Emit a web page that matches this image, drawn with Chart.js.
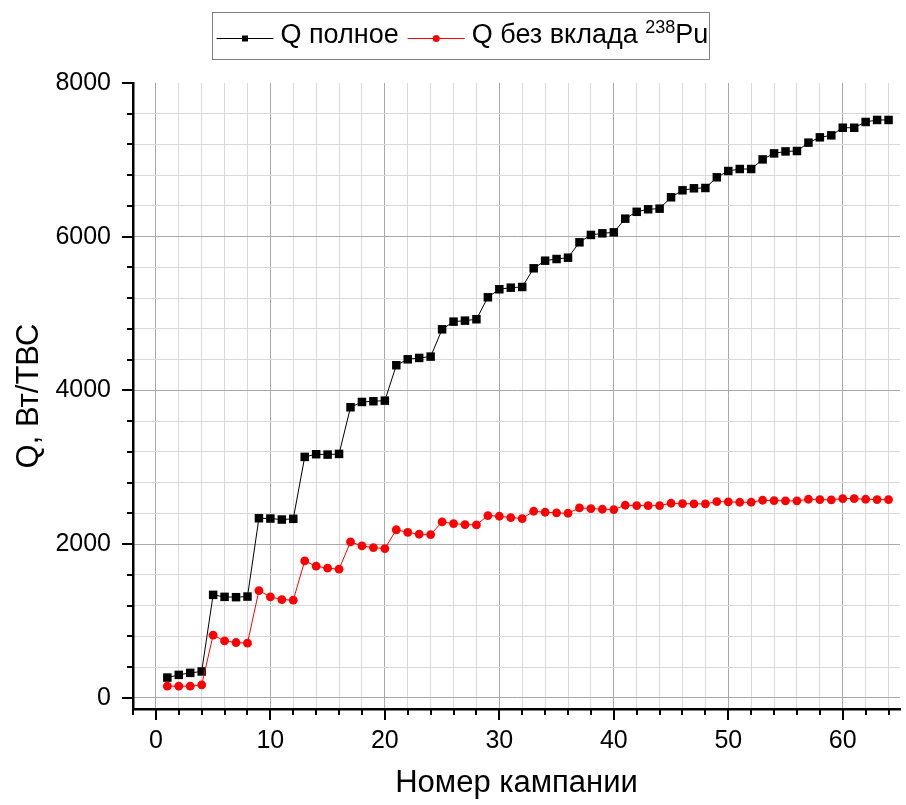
<!DOCTYPE html>
<html>
<head>
<meta charset="utf-8">
<script src="https://cdn.jsdelivr.net/npm/chart.js@4.4.1/dist/chart.umd.min.js"></script>
<style>
  html, body { margin: 0; padding: 0; background: #fff; }
  canvas { display: block; }
</style>
</head>
<body>
<canvas id="chart" width="906" height="805"></canvas>
<script>
// Campaign numbers
const campaigns = [
  1, 2, 3, 4, 5, 6, 7, 8, 9, 10, 11, 12, 13, 14, 15, 16,
  17, 18, 19, 20, 21, 22, 23, 24, 25, 26, 27, 28, 29, 30, 31, 32,
  33, 34, 35, 36, 37, 38, 39, 40, 41, 42, 43, 44, 45, 46, 47, 48,
  49, 50, 51, 52, 53, 54, 55, 56, 57, 58, 59, 60, 61, 62, 63, 64
];

// Total decay heat per assembly, W
const qTotal = [
  264, 299, 325, 343, 1340, 1314, 1310, 1318, 2337, 2333, 2320, 2329, 3135, 3170, 3165, 3174,
  3781, 3850, 3859, 3867, 4328, 4405, 4423, 4440, 4795, 4895, 4908, 4926, 5212, 5316, 5337, 5346,
  5589, 5688, 5710, 5727, 5927, 6023, 6044, 6057, 6235, 6324, 6357, 6365, 6513, 6604, 6630, 6634,
  6773, 6855, 6881, 6881, 7006, 7084, 7110, 7115, 7224, 7293, 7319, 7418, 7418, 7493, 7519, 7519
];

// Decay heat without the Pu-238 contribution, W
const qNoPu238 = [
  152, 152, 152, 169, 815, 741, 720, 711, 1396, 1314, 1279, 1271, 1782, 1713, 1687, 1674,
  2029, 1977, 1955, 1942, 2187, 2153, 2129, 2125, 2289, 2268, 2255, 2250, 2372, 2363, 2346, 2333,
  2428, 2415, 2407, 2402, 2471, 2463, 2454, 2450, 2506, 2502, 2500, 2502, 2532, 2528, 2524, 2524,
  2554, 2550, 2545, 2545, 2571, 2567, 2563, 2563, 2584, 2580, 2576, 2593, 2593, 2584, 2580, 2580
];

// Labelled tick values
const xTickLabels = [0, 10, 20, 30, 40, 50, 60];
const yTickLabels = [0, 2000, 4000, 6000, 8000];

// Legend entries (text pieces, superscripts flagged)
const legendTotal = [{ text: 'Q полное' }];
const legendNoPu = [{ text: 'Q без вклада ' }, { text: '238', sup: true }, { text: 'Pu' }];

const FONT = "'Liberation Sans', Arial, sans-serif";
const GRID_MAJOR = '#a9a9a9';
const GRID_MINOR = '#d9d9d9';

const toPoints = (ys) => campaigns.map((c, i) => ({ x: c, y: ys[i] }));

// Evenly spaced tick values (major + minor) from start to end
const tickRange = (start, end, step) => {
  const out = [];
  for (let v = start; v <= end + 1e-9; v += step) out.push({ value: v });
  return out;
};

// Outward tick marks: long at labelled values, short elsewhere
const axisTickMarks = {
  id: 'axisTickMarks',
  afterDraw(chart) {
    const { ctx, chartArea: a, scales: { x, y } } = chart;
    ctx.save();
    ctx.strokeStyle = '#000';
    ctx.lineWidth = 2;
    ctx.lineCap = 'butt';
    x.ticks.forEach(t => {
      const px = Math.round(x.getPixelForValue(t.value));
      const len = xTickLabels.includes(t.value) ? 11 : 6;
      ctx.beginPath();
      ctx.moveTo(px, a.bottom);
      ctx.lineTo(px, a.bottom + len);
      ctx.stroke();
    });
    y.ticks.forEach(t => {
      const py = Math.round(y.getPixelForValue(t.value));
      const len = yTickLabels.includes(t.value) ? 11 : 6;
      ctx.beginPath();
      ctx.moveTo(a.left, py);
      ctx.lineTo(a.left - len, py);
      ctx.stroke();
    });
    ctx.restore();
  }
};

// Boxed legend with superscript support
const boxedLegend = {
  id: 'boxedLegend',
  afterDraw(chart) {
    const ctx = chart.ctx;
    const entries = [legendTotal, legendNoPu];
    const box = { x: 212.5, y: 12.5, h: 47 };
    const lineY = 38.5;
    const baseY = 43;
    const mainFont = '27px ' + FONT;
    const supFont = '18px ' + FONT;
    ctx.save();
    let cur = box.x + 4;
    entries.forEach((parts, i) => {
      const ds = chart.data.datasets[i];
      const lineLen = 57;
      ctx.strokeStyle = ds.borderColor;
      ctx.lineWidth = 1;
      ctx.beginPath();
      ctx.moveTo(cur, lineY);
      ctx.lineTo(cur + lineLen, lineY);
      ctx.stroke();
      ctx.fillStyle = ds.pointBackgroundColor;
      const mx = cur + lineLen / 2;
      if (ds.pointStyle === 'rect') {
        ctx.fillRect(mx - 3, lineY - 3, 6, 6);
      } else {
        ctx.beginPath();
        ctx.arc(mx, lineY, 3.5, 0, Math.PI * 2);
        ctx.fill();
      }
      cur += lineLen + 7;
      ctx.fillStyle = '#000';
      ctx.textBaseline = 'alphabetic';
      ctx.textAlign = 'left';
      parts.forEach(p => {
        ctx.font = p.sup ? supFont : mainFont;
        ctx.fillText(p.text, cur, p.sup ? baseY - 10 : baseY);
        cur += ctx.measureText(p.text).width;
      });
      cur += 9;
    });
    const w = cur - 9 + 1 - box.x;
    ctx.strokeStyle = '#7f7f7f';
    ctx.lineWidth = 1;
    ctx.strokeRect(box.x, box.y, Math.round(w), box.h);
    ctx.restore();
  }
};

new Chart(document.getElementById('chart'), {
  type: 'line',
  data: {
    datasets: [
      {
        label: 'Q полное',
        data: toPoints(qTotal),
        borderColor: '#000000',
        backgroundColor: '#000000',
        pointBackgroundColor: '#000000',
        pointBorderWidth: 0,
        pointStyle: 'rect',
        pointRadius: 6,
        borderWidth: 1,
        order: 1
      },
      {
        label: 'Q без вклада ²³⁸Pu',
        data: toPoints(qNoPu238),
        borderColor: '#ff0000',
        backgroundColor: '#ff0000',
        pointBackgroundColor: '#ff0000',
        pointBorderWidth: 0,
        pointStyle: 'circle',
        pointRadius: 4.4,
        borderWidth: 1,
        order: 0
      }
    ]
  },
  options: {
    responsive: false,
    animation: false,
    devicePixelRatio: 1,
    layout: { padding: { top: 83, right: 0, left: 0, bottom: 0 } },
    plugins: {
      legend: { display: false },
      tooltip: { enabled: false }
    },
    scales: {
      x: {
        type: 'linear',
        min: -2,
        max: 65,
        afterBuildTicks(scale) { scale.ticks = tickRange(-2, 64, 2); },
        afterFit(scale) { scale.height = 96; },
        border: { display: true, color: '#000', width: 2.5 },
        grid: {
          drawTicks: true,
          tickLength: 0,
          tickColor: 'rgba(0,0,0,0)',
          lineWidth: 1,
          color: (c) => (c.tick && xTickLabels.includes(c.tick.value)) ? GRID_MAJOR : GRID_MINOR
        },
        ticks: {
          autoSkip: false,
          maxRotation: 0,
          padding: 17,
          color: '#000',
          font: { family: FONT, size: 25 },
          callback: (v) => xTickLabels.includes(v) ? String(v) : ''
        },
        title: {
          display: true,
          text: 'Номер кампании',
          color: '#000',
          font: { family: FONT, size: 31 },
          padding: { top: 0, bottom: 3 }
        }
      },
      y: {
        type: 'linear',
        min: -145,
        max: 8000,
        afterBuildTicks(scale) { scale.ticks = tickRange(0, 8000, 400); },
        afterFit(scale) { scale.width = 133; },
        border: { display: true, color: '#000', width: 2.5 },
        grid: {
          drawTicks: true,
          tickLength: 0,
          tickColor: 'rgba(0,0,0,0)',
          lineWidth: 1,
          color: (c) => {
            if (!c.tick) return GRID_MINOR;
            if (c.tick.value === 8000) return 'rgba(0,0,0,0)';
            return yTickLabels.includes(c.tick.value) ? GRID_MAJOR : GRID_MINOR;
          }
        },
        ticks: {
          autoSkip: false,
          padding: 22,
          color: '#000',
          font: { family: FONT, size: 25 },
          callback: (v) => yTickLabels.includes(v) ? String(v) : ''
        },
        title: {
          display: true,
          text: 'Q, Вт/ТВС',
          color: '#000',
          font: { family: FONT, size: 31 },
          padding: { top: 11, bottom: 0 }
        }
      }
    }
  },
  plugins: [axisTickMarks, boxedLegend]
});
</script>
</body>
</html>
